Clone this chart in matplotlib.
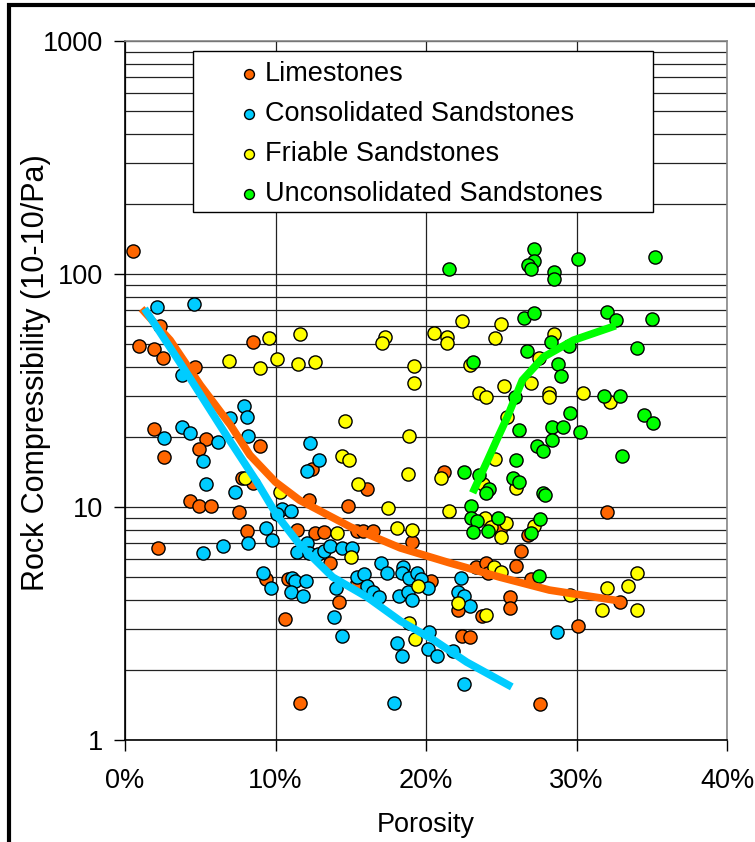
import matplotlib
matplotlib.use("Agg")
import matplotlib.pyplot as plt
from matplotlib.patches import Rectangle
from matplotlib.ticker import PercentFormatter, LogLocator, NullFormatter

plt.rcParams['font.family'] = ['Liberation Sans', 'DejaVu Sans']

# porosity (%) and rock compressibility (10-10/Pa)
lime_phi = [0.5, 0.9, 1.9, 2.5, 2.3, 4.65, 8.5, 1.9, 2.6, 5.4, 4.9, 9.0, 7.8, 8.5,
            4.3, 4.9, 5.7, 7.6, 12.2, 14.8, 16.1, 12.4, 2.2, 8.1, 9.4, 10.6, 11.6,
            11.4, 12.6, 13.2, 13.6, 14.2, 15.4, 15.8, 16.5, 19.1, 15.4, 20.3, 10.8,
            22.1, 22.4, 22.9, 23.3, 21.2, 26.3, 26.0, 24.9, 26.8, 24.0, 24.1, 25.6,
            25.6, 23.7, 27.0, 27.6, 30.1, 32.0, 32.9]
lime_k = [125, 49, 47.5, 43.5, 60, 40, 51, 21.6, 16.4, 19.6, 17.7, 18.3, 13.3, 12.7,
          10.6, 10.1, 10.1, 9.5, 10.7, 10.1, 12, 14.6, 6.7, 7.9, 4.9, 3.3, 1.44,
          8.0, 7.7, 7.8, 5.75, 3.9, 7.9, 7.9, 7.9, 7.1, 4.7, 4.8, 4.9,
          3.6, 2.8, 2.77, 5.5, 14.1, 6.5, 5.6, 8.0, 7.6, 5.75, 5.2, 4.1,
          3.7, 3.4, 4.9, 1.43, 3.1, 9.5, 3.9]

cons_phi = [2.1, 4.6, 3.8, 7.9, 8.1, 7.0, 3.8, 4.3, 2.6, 6.2, 8.2, 5.2, 12.3, 12.9,
            12.1, 5.4, 7.3, 10.4, 11.0, 10.1, 9.4, 9.8, 8.2, 6.5, 5.2, 11.4, 12.1,
            12.2, 12.8, 13.2, 13.6, 14.4, 15.1, 17.0, 17.4, 18.5, 18.4, 18.9, 19.4,
            19.7, 20.1, 9.2, 9.7, 11.1, 11.3, 11.0, 11.8, 12.0, 14.0, 15.4, 15.9,
            16.1, 16.5, 16.9, 18.2, 18.8, 19.1, 13.9, 14.4, 18.1, 18.4, 20.2, 20.1,
            20.7, 21.8, 17.9, 22.3, 22.1, 22.5, 22.9, 22.5, 28.7]
cons_k = [72, 74, 37, 27, 24.3, 24, 22, 20.8, 19.8, 19, 20.2, 15.8, 18.8, 15.9,
          14.3, 12.6, 11.6, 9.8, 9.6, 9.3, 8.1, 7.2, 7.0, 6.8, 6.35, 6.4, 7.0,
          6.35, 6.3, 6.5, 6.8, 6.7, 6.7, 5.75, 5.2, 5.5, 5.2, 4.95, 5.2,
          4.9, 4.5, 5.2, 4.5, 4.95, 4.8, 4.3, 4.15, 4.8, 4.5, 5.0, 5.15,
          4.6, 4.3, 4.1, 4.15, 4.3, 4.0, 3.37, 2.8, 2.6, 2.3, 2.9, 2.46,
          2.3, 2.4, 1.44, 4.95, 4.3, 4.15, 3.76, 1.74, 2.9]

fria_phi = [9.6, 11.6, 6.9, 9.0, 10.1, 11.5, 12.6, 17.3, 17.1, 20.5, 19.2, 19.2,
            14.6, 18.9, 14.4, 14.9, 18.8, 15.5, 10.3, 8.0, 17.5, 21.0, 22.4, 21.4,
            21.4, 25.0, 24.6, 28.5, 22.9, 27.5, 27.0, 25.2, 23.5, 24.0, 28.2, 28.2,
            30.4, 32.2, 24.6, 25.4, 21.5, 23.8, 26.0, 23.9, 24.3, 25.3, 25.0, 27.2,
            24.5, 25.0, 18.1, 19.1, 19.5, 22.1, 24.0, 29.6, 32.0, 33.4, 34.0, 31.7,
            34.0, 18.9, 19.3, 14.1, 15.0]
fria_k = [53, 55, 42.3, 39.5, 43.2, 41, 41.8, 53.7, 50.6, 56, 40.3, 34,
          23.4, 20.2, 16.5, 15.9, 13.9, 12.6, 11.6, 13.3, 9.9, 13.3, 62.9, 53.4,
          50.6, 61, 53, 55.4, 40.7, 43.6, 34, 33, 30.8, 29.6, 30.8, 29.6,
          30.8, 28.2, 16.1, 24.3, 9.6, 12.5, 12.1, 8.95, 8.2, 8.5, 7.4, 8.3,
          5.5, 5.25, 8.1, 8.0, 4.6, 3.87, 3.45, 4.2, 4.5, 4.6, 5.2, 3.6,
          3.6, 3.18, 2.7, 7.7, 6.1]

unco_phi = [21.5, 27.2, 27.2, 26.8, 27.0, 28.5, 28.5, 30.1, 35.2, 26.5, 27.2, 32.0,
            32.6, 35.0, 28.3, 29.5, 26.7, 34.0, 23.1, 28.8, 29.0, 31.8, 32.9, 25.9,
            29.6, 28.4, 29.1, 30.2, 34.5, 35.1, 26.2, 28.4, 27.4, 27.8, 33.0, 26.0,
            22.5, 23.5, 25.8, 26.2, 24.2, 24.0, 27.8, 27.9, 23.0, 23.0, 23.4, 24.8,
            23.1, 24.1, 27.6, 27.0, 27.5]
unco_k = [105, 128, 114, 109, 105, 102, 95, 116, 118, 65, 68, 69,
          63.5, 64, 51, 49, 46.7, 48, 41.9, 41, 36.5, 30, 30, 29.6,
          25.3, 22, 22, 21, 24.8, 22.9, 21.4, 19.4, 18.3, 17.4, 16.5, 15.9,
          14.1, 13.7, 13.3, 12.8, 11.9, 11.5, 11.5, 11.3, 10.1, 9.0, 8.7, 9.0,
          7.8, 7.9, 8.9, 7.7, 5.05]

# hand drawn trend curves
lime_fit_phi = [1.1, 3.0, 5.0, 7.0, 8.3, 10.0, 11.6, 15.0, 18.3, 21.6, 24.9, 28.2, 32.9]
lime_fit_k = [71, 52, 33.4, 22.5, 16.7, 12.8, 10.7, 8.2, 6.67, 5.75, 5.0, 4.4, 3.95]
cons_fit_phi = [1.3, 4.1, 6.8, 8.8, 10.1, 11.6, 13.8, 16.1, 18.3, 20.5, 22.7, 25.7]
cons_fit_k = [71, 37.6, 20, 12.7, 9.2, 6.9, 5.0, 4.1, 3.24, 2.69, 2.16, 1.69]
unco_fit_phi = [23.1, 24.1, 24.7, 25.4, 26.4, 27.8, 29.8, 32.6]
unco_fit_k = [11.5, 15.9, 19.4, 24.3, 35, 44, 52, 60]

labels = ['Limestones', 'Consolidated Sandstones', 'Friable Sandstones',
          'Unconsolidated Sandstones']
colors = ['#FF6600', '#00CCFF', '#FFFF00', '#00FF00']

fig = plt.figure(figsize=(7.55, 8.42), dpi=100)
ax = fig.add_axes([125/755, 1 - 740/842, 602/755, 699/842])

fs = 19.5
series = [(lime_phi, lime_k), (cons_phi, cons_k), (fria_phi, fria_k), (unco_phi, unco_k)]
for (x, y), c, lab in zip(series, colors, labels):
    ax.scatter(x, y, s=90, c=c, edgecolors='black', linewidths=1.0, zorder=3, label=lab)

ax.plot(lime_fit_phi, lime_fit_k, color='#FF6600', lw=5.5, zorder=4, solid_capstyle='butt')
ax.plot(cons_fit_phi, cons_fit_k, color='#00CCFF', lw=5.5, zorder=4, solid_capstyle='butt')
ax.plot(unco_fit_phi, unco_fit_k, color='#00FF00', lw=5.5, zorder=4, solid_capstyle='butt')

ax.set_yscale('log')
ax.set_ylim(1, 1000)
ax.set_xlim(0, 40)
ax.set_xticks([0, 10, 20, 30, 40])
ax.xaxis.set_major_formatter(PercentFormatter(decimals=0))
ax.yaxis.set_minor_locator(LogLocator(base=10, subs=range(2, 10), numticks=20))
ax.yaxis.set_minor_formatter(NullFormatter())
ax.set_yticks([1, 10, 100, 1000])
ax.set_yticklabels(['1', '10', '100', '1000'])

ax.set_axisbelow(True)
ax.grid(True, which='both', axis='y', color='#222222', lw=0.9)
ax.grid(True, which='major', axis='x', color='#222222', lw=0.9)
ax.tick_params(axis='y', which='minor', length=0)
ax.tick_params(axis='both', which='major', direction='out', length=8, width=1,
               labelsize=fs)
ax.tick_params(axis='x', pad=12)
ax.tick_params(axis='y', pad=7.5)

for side in ['left', 'bottom']:
    ax.spines[side].set_color('black')
    ax.spines[side].set_linewidth(1.2)
for side in ['right', 'top']:
    ax.spines[side].set_color('#888888')
    ax.spines[side].set_linewidth(1.2)

ax.set_xlabel('Porosity', fontsize=fs)
ax.set_ylabel('Rock Compressibility (10-10/Pa)', fontsize=22)
ax.xaxis.set_label_coords(0.5, -0.103)
ax.yaxis.set_label_coords(-0.123, 0.526)

# legend box
ax.add_patch(Rectangle((0.113, 0.755), 0.764, 0.231, transform=ax.transAxes,
                       facecolor='white', edgecolor='black', lw=1.0, zorder=5))
leg = ax.legend(loc='upper left', bbox_to_anchor=(0.183, 0.971), frameon=False,
                fontsize=fs, markerscale=0.75, handlelength=1.0, handletextpad=0.1,
                borderpad=0, borderaxespad=0, labelspacing=0.515)
leg.set_zorder(6)

# outer frame of the figure
fig.add_artist(Rectangle((9/755, -0.2), 1.3, 1 - 5/842 + 0.2, transform=fig.transFigure,
                         facecolor='none', edgecolor='black', lw=3))

fig.savefig('out.png', dpi=100)
